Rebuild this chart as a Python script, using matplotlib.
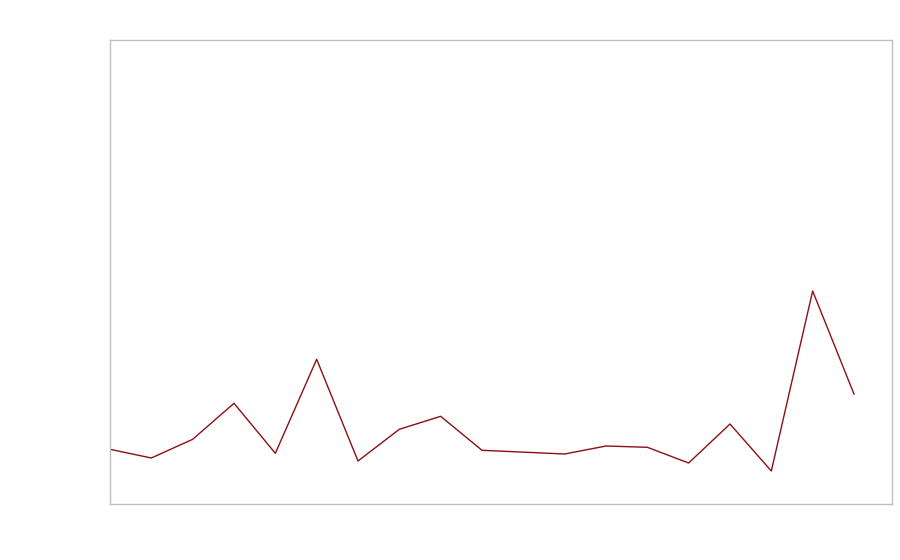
import matplotlib
matplotlib.use("Agg")
import matplotlib.pyplot as plt

# === Data (no labels visible)
x_idx = [0, 1, 2, 3, 4, 5, 6, 7, 8, 9, 11, 12, 13, 14, 15, 16, 17, 18]
values = [54.7, 46, 64.7, 100.7, 50.7, 144.7, 43, 74.7, 87.7, 53.7,
          50, 58, 56.7, 41, 80, 33, 213, 110]

fig = plt.figure(figsize=(9, 5.6), dpi=100)
ax = fig.add_axes([110 / 900, 56 / 560, 782 / 900, 464 / 560])
ax.plot(x_idx, values, color="#8b0f14", linewidth=1)

ax.set_xlim(0, 18.92)
ax.set_ylim(0, 464)
ax.set_xticks([])
ax.set_yticks([])
for s in ax.spines.values():
    s.set_color("#bfbfbf")
    s.set_linewidth(1)

fig.savefig("out.png", dpi=100)
